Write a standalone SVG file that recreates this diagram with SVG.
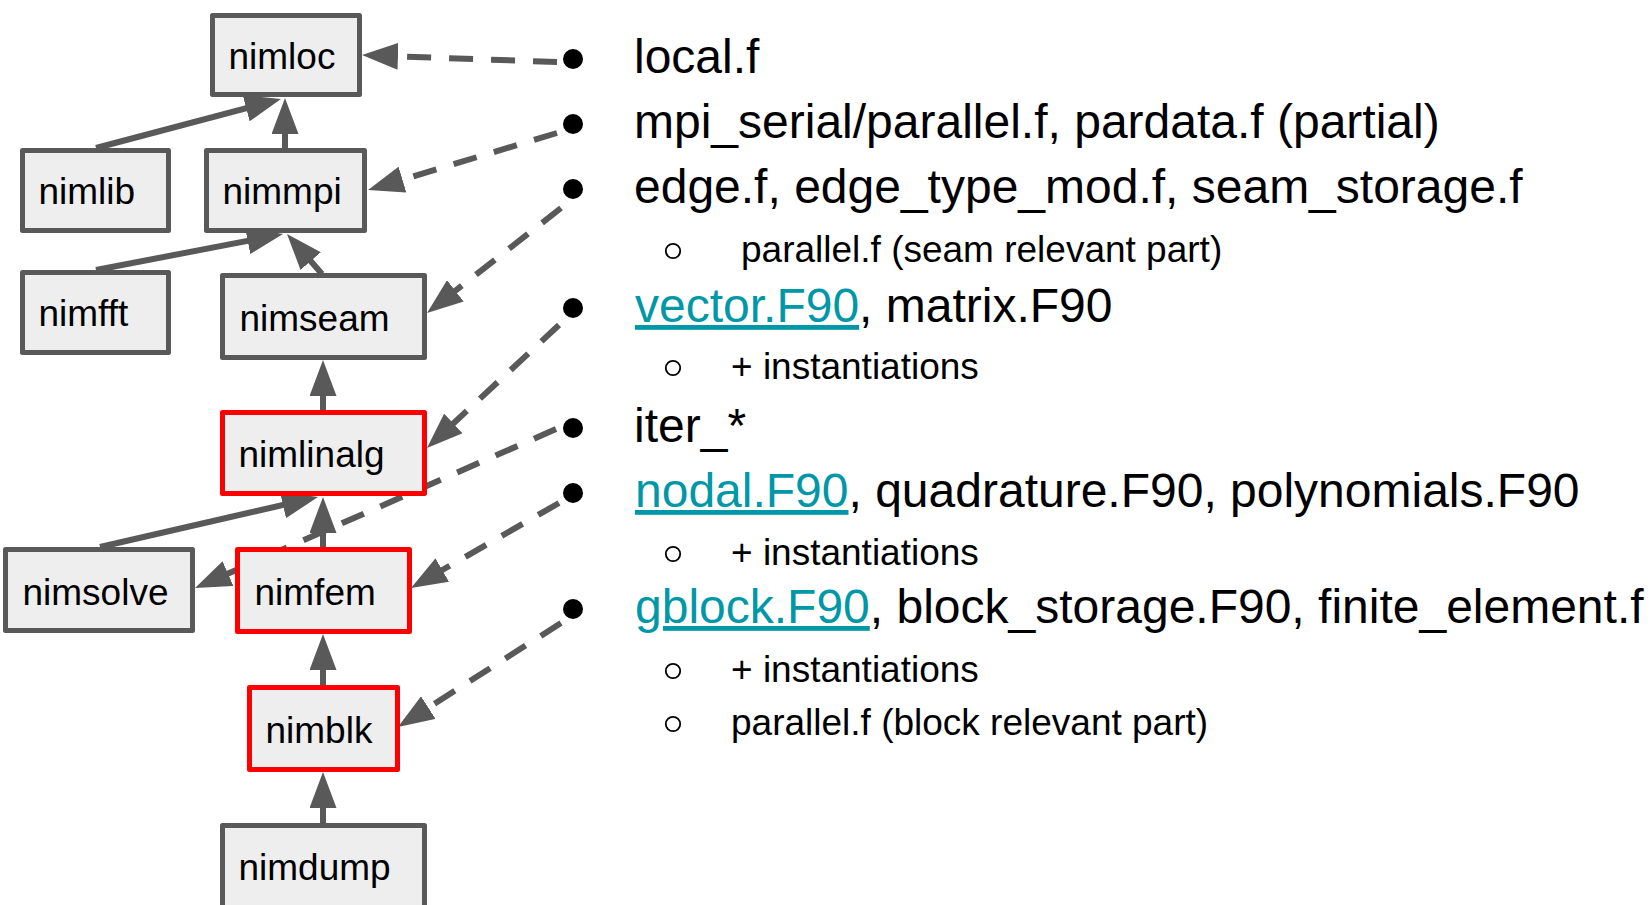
<svg xmlns="http://www.w3.org/2000/svg" width="1651" height="905" viewBox="0 0 1651 905">
<style>
.box{fill:#eeeeee;stroke:#595959;stroke-width:5;stroke-linejoin:round}
.red{stroke:#ff0000}
.lbl{font-family:"Liberation Sans",Arial,sans-serif;font-size:37px;fill:#000}
.solid{stroke:#595959;stroke-width:6;fill:none;marker-end:url(#ah)}
.dash{stroke:#595959;stroke-width:6;fill:none;stroke-dasharray:24 18;marker-end:url(#ah)}
.main{font-family:"Liberation Sans",Arial,sans-serif;font-size:48px;fill:#000}
.sub{font-family:"Liberation Sans",Arial,sans-serif;font-size:37px;fill:#000}
.link{fill:#0097a7;text-decoration:underline}
.dot{fill:#000}
.ring{fill:none;stroke:#000;stroke-width:1.8}
</style>
<defs>
<marker id="ah" markerUnits="userSpaceOnUse" markerWidth="36" markerHeight="27" refX="26" refY="13.5" orient="auto" viewBox="0 0 36 27">
<path d="M0,0 L36,13.5 L0,27 Z" fill="#595959"/>
</marker>
</defs>
<g id="connectors">
<line class="solid" x1="96" y1="148" x2="271.3" y2="101.6"/>
<line class="solid" x1="285" y1="148" x2="285" y2="108"/>
<line class="solid" x1="96" y1="270" x2="273.2" y2="235.9"/>
<line class="solid" x1="322" y1="274" x2="293.6" y2="241.5"/>
<line class="solid" x1="323" y1="410" x2="323" y2="370"/>
<line class="solid" x1="100" y1="547" x2="308.3" y2="499.2"/>
<line class="solid" x1="323" y1="547" x2="323" y2="507"/>
<line class="solid" x1="323" y1="685" x2="323" y2="644"/>
<line class="solid" x1="323" y1="823" x2="323" y2="782"/>
<line class="dash" x1="557" y1="62" x2="372" y2="55.4"/>
<line class="dash" x1="557" y1="133" x2="377.6" y2="187.1"/>
<line class="dash" x1="561" y1="208" x2="434.9" y2="306.8"/>
<line class="dash" x1="559" y1="325" x2="434.3" y2="441.2"/>
<line class="dash" x1="556" y1="429" x2="204.2" y2="584"/>
<line class="dash" x1="559" y1="503" x2="419.7" y2="583"/>
<line class="dash" x1="561" y1="623" x2="406.4" y2="721.6"/>
</g>
<g id="nimloc"><rect class="box" x="212.5" y="15.5" width="147" height="79"/><text class="lbl" x="228.5" y="69">nimloc</text></g>
<g id="nimlib"><rect class="box" x="22.5" y="150.5" width="146" height="80"/><text class="lbl" x="38.5" y="204">nimlib</text></g>
<g id="nimmpi"><rect class="box" x="206.5" y="150.5" width="158" height="80"/><text class="lbl" x="222.5" y="204">nimmpi</text></g>
<g id="nimfft"><rect class="box" x="22.5" y="272.5" width="146" height="80"/><text class="lbl" x="38.5" y="326">nimfft</text></g>
<g id="nimseam"><rect class="box" x="222.5" y="275.5" width="202" height="82"/><text class="lbl" x="239.5" y="331">nimseam</text></g>
<g id="nimlinalg"><rect class="box red" x="222.5" y="412.5" width="202" height="81"/><text class="lbl" x="238.5" y="467">nimlinalg</text></g>
<g id="nimsolve"><rect class="box" x="5.5" y="549.5" width="187" height="81"/><text class="lbl" x="22.5" y="605">nimsolve</text></g>
<g id="nimfem"><rect class="box red" x="237.5" y="549.5" width="172" height="82"/><text class="lbl" x="254.5" y="605">nimfem</text></g>
<g id="nimblk"><rect class="box red" x="249.5" y="687.5" width="148" height="82"/><text class="lbl" x="265.5" y="743">nimblk</text></g>
<g id="nimdump"><rect class="box" x="222.5" y="825.5" width="202" height="95"/><text class="lbl" x="238.5" y="880">nimdump</text></g>
<g id="list">
<circle class="dot" cx="573" cy="59" r="10"/>
<text class="main" x="634" y="73">local.f</text>
<circle class="dot" cx="573" cy="124" r="10"/>
<text class="main" x="634" y="138">mpi_serial/parallel.f, pardata.f (partial)</text>
<circle class="dot" cx="573" cy="189" r="10"/>
<text class="main" x="634" y="203">edge.f, edge_type_mod.f, seam_storage.f</text>
<circle class="ring" cx="673" cy="251" r="7.2"/>
<text class="sub" x="741" y="262">parallel.f (seam relevant part)</text>
<circle class="dot" cx="573" cy="308" r="10"/>
<text class="main" x="635" y="322"><tspan class="link">vector.F90</tspan>, matrix.F90</text>
<circle class="ring" cx="673" cy="368" r="7.2"/>
<text class="sub" x="731" y="379">+ instantiations</text>
<circle class="dot" cx="573" cy="428" r="10"/>
<text class="main" x="634" y="442">iter_*</text>
<circle class="dot" cx="573" cy="493" r="10"/>
<text class="main" x="635" y="507"><tspan class="link">nodal.F90</tspan>, quadrature.F90, polynomials.F90</text>
<circle class="ring" cx="673" cy="554" r="7.2"/>
<text class="sub" x="731" y="565">+ instantiations</text>
<circle class="dot" cx="573" cy="609" r="10"/>
<text class="main" x="635" y="623"><tspan class="link">gblock.F90</tspan>, block_storage.F90, finite_element.f</text>
<circle class="ring" cx="673" cy="671" r="7.2"/>
<text class="sub" x="731" y="682">+ instantiations</text>
<circle class="ring" cx="673" cy="724" r="7.2"/>
<text class="sub" x="731" y="735">parallel.f (block relevant part)</text>
</g>
</svg>
